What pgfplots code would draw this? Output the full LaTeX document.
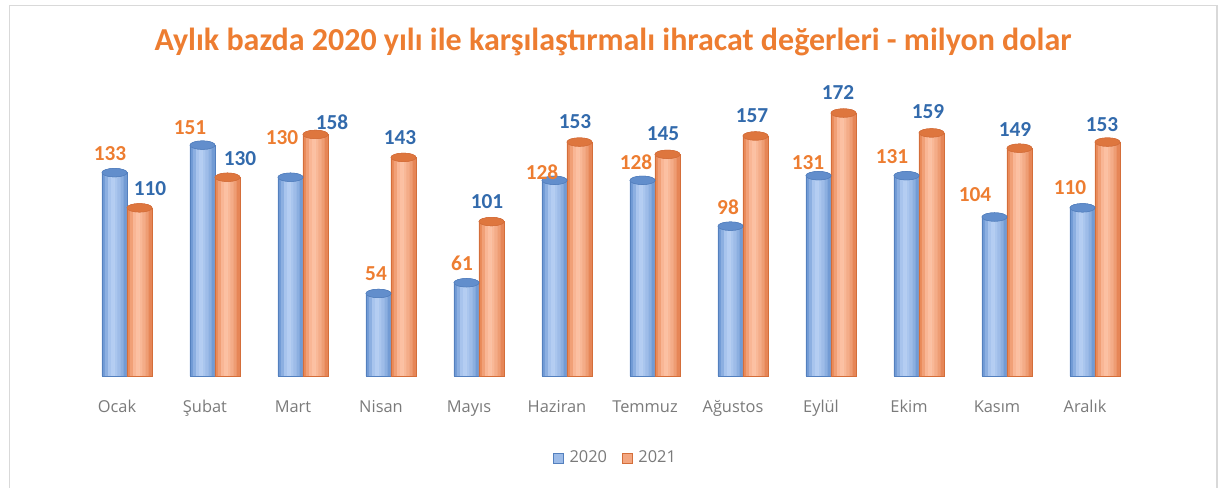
\documentclass[border=0pt]{standalone}
\usepackage{pgfplots}
\usepackage{pgfplotstable}
\pgfplotsset{compat=1.18}
\usepackage{fontspec}
\setmainfont{Carlito}
\newfontfamily\osans{Open Sans}

\definecolor{blueL}{RGB}{100,145,208}
\definecolor{blueM}{RGB}{180,205,242}
\definecolor{blueR}{RGB}{100,144,206}
\definecolor{blueCap}{RGB}{98,142,204}
\definecolor{blueDraw}{RGB}{84,128,190}
\definecolor{orL}{RGB}{230,128,76}
\definecolor{orM}{RGB}{252,192,162}
\definecolor{orR}{RGB}{226,124,74}
\definecolor{orCap}{RGB}{222,118,62}
\definecolor{orDraw}{RGB}{212,110,58}
\definecolor{titleOr}{RGB}{237,125,49}
\definecolor{labOr}{RGB}{237,125,49}
\definecolor{labBl}{RGB}{50,106,172}
\definecolor{tickGray}{RGB}{122,122,122}
\definecolor{frameGray}{RGB}{217,217,217}

\pgfplotstableread{
i a b
0 133 110
1 151 130
2 130 158
3 54 143
4 61 101
5 128 153
6 128 145
7 98 157
8 131 172
9 131 159
10 104 149
11 110 153
}\datatable

\pgfplotstableread{
x y t
-0.193 145.2 133
0.716 162.2 151
1.761 155.7 130
2.830 67.0 54
3.807 73.6 61
4.716 133.4 128
5.784 140.0 128
6.830 110.5 98
7.739 139.3 131
8.693 143.2 131
9.636 118.4 104
10.716 123.0 110
}\labA

\pgfplotstableread{
x y t
0.261 122.3 110
1.284 141.9 130
2.330 166.1 158
3.102 155.7 143
4.091 113.8 101
5.091 166.1 153
6.091 158.3 145
7.102 170.0 157
8.080 185.1 172
9.102 172.7 159
10.091 161.5 149
11.080 164.2 153
}\labB

\newcommand{\strip}[3]{\addplot[ybar, bar width=0.04, bar shift=#1, fill=#2, draw=none, forget plot] table[x=i, y=#3] {\datatable};}
\newcommand{\barcap}[4]{\addplot[only marks, mark=*, mark size=9.375pt, mark options={yscale=0.34, fill=#3, draw=#4, line width=0.4pt}, forget plot] table[x expr=\thisrow{i}+#1, y=#2] {\datatable};}

\begin{document}
\begin{tikzpicture}
\useasboundingbox (0pt,0pt) rectangle (914.25pt,-366pt);
\draw[frameGray, line width=1.3pt] (7.125pt,-372pt) -- (7.125pt,-4.125pt) -- (912.75pt,-4.125pt) -- (912.75pt,-372pt);
\node[text=titleOr, font=\fontsize{24}{28}\selectfont\bfseries] at (459.75pt,-31.5pt) {Aylık bazda 2020 yılı ile karşılaştırmalı ihracat değerleri - milyon dolar};
\begin{axis}[
  at={(62.25pt,-282pt)}, anchor=south west,
  scale only axis, width=792pt, height=229.35pt,
  xmin=-0.5, xmax=11.5, ymin=0, ymax=200,
  clip=false,
  axis line style={draw=none},
  major tick length=0pt,
  ytick=\empty,
  xtick={0,...,11},
  xticklabels={Ocak,Şubat,Mart,Nisan,Mayıs,Haziran,Temmuz,Ağustos,Eylül,Ekim,Kasım,Aralık},
  xticklabel style={anchor=center, yshift=-24pt, xshift=-7.5pt, text=tickGray,
    font=\osans\fontsize{12.3}{14}\selectfont, text height=1.6ex, text depth=0.3ex},
  legend style={at={(0.5045,-0.268)}, anchor=center, draw=none, fill=none,
    font=\osans\fontsize{12.3}{14}\selectfont, text=tickGray, legend columns=2,
    /tikz/every odd column/.append style={column sep=2.5pt},
    /tikz/every even column/.append style={column sep=9pt}},
]
% ---- 2020 ----
\barcap{-0.142}{a}{blueR}{blueDraw}
\strip{-0.26625}{blueM!15!blueL}{a}
\strip{-0.23075}{blueM!50!blueL}{a}
\strip{-0.19525}{blueM!85!blueL}{a}
\strip{-0.15975}{blueM}{a}
\strip{-0.12425}{blueM!88!blueR}{a}
\strip{-0.08875}{blueM!72!blueR}{a}
\strip{-0.05325}{blueM!50!blueR}{a}
\strip{-0.01775}{blueM!18!blueR}{a}
\addplot[ybar, bar width=0.284, bar shift=-0.142, fill=none, draw=blueDraw, line width=0.4pt, forget plot]
  table[x=i, y=a] {\datatable};
\barcap{-0.142}{a}{blueCap}{blueDraw}
% ---- 2021 ----
\barcap{0.142}{b}{orR}{orDraw}
\strip{0.01775}{orM!15!orL}{b}
\strip{0.05325}{orM!50!orL}{b}
\strip{0.08875}{orM!85!orL}{b}
\strip{0.12425}{orM}{b}
\strip{0.15975}{orM!88!orR}{b}
\strip{0.19525}{orM!70!orR}{b}
\strip{0.23075}{orM!48!orR}{b}
\strip{0.26625}{orM!15!orR}{b}
\addplot[ybar, bar width=0.284, bar shift=0.142, fill=none, draw=orDraw, line width=0.4pt, forget plot]
  table[x=i, y=b] {\datatable};
\barcap{0.142}{b}{orCap}{orDraw}
% labels
\addplot[draw=none, mark=none, nodes near coords, point meta=explicit symbolic,
  nodes near coords style={anchor=center, text=labOr, font=\fontsize{16}{18}\selectfont\bfseries}, forget plot]
  table[x=x, y=y, meta=t] {\labA};
\addplot[draw=none, mark=none, nodes near coords, point meta=explicit symbolic,
  nodes near coords style={anchor=center, text=labBl, font=\fontsize{16}{18}\selectfont\bfseries}, forget plot]
  table[x=x, y=y, meta=t] {\labB};
\addlegendimage{legend image code/.code={\draw[fill=blueM!70!blueL, draw=blueDraw, line width=0.5pt] (0pt,-3.75pt) rectangle (7.5pt,3.75pt);}}
\addlegendentry{2020}
\addlegendimage{legend image code/.code={\draw[fill=orM!60!orL, draw=orDraw, line width=0.5pt] (0pt,-3.75pt) rectangle (7.5pt,3.75pt);}}
\addlegendentry{2021}
\end{axis}
\end{tikzpicture}
\end{document}
